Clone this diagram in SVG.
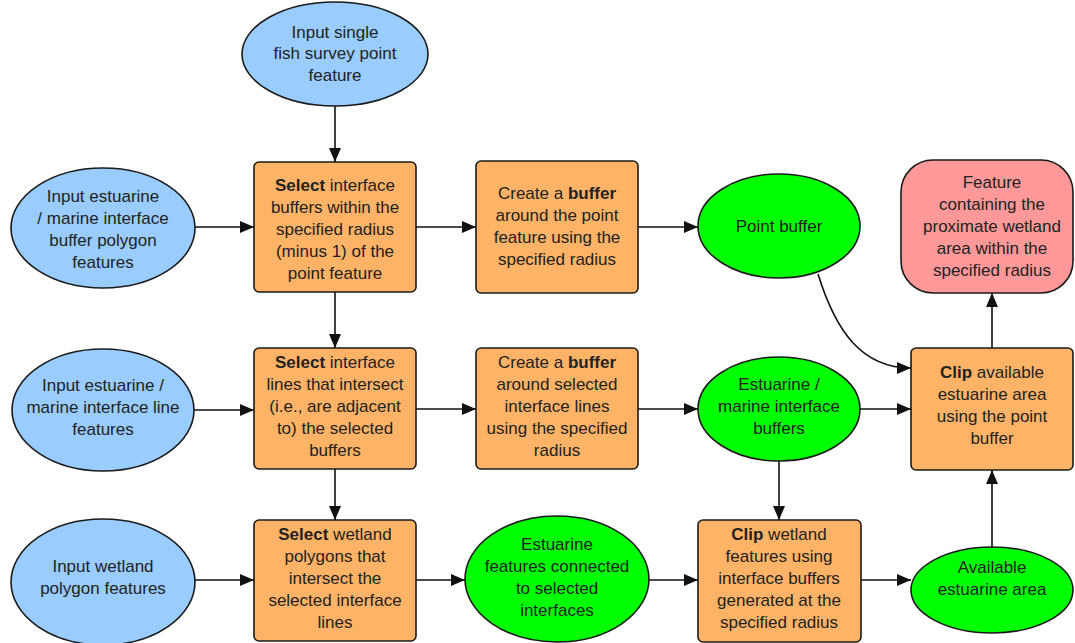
<svg xmlns="http://www.w3.org/2000/svg" width="1075" height="643" viewBox="0 0 1075 643">
<defs>
<marker id="arr" markerUnits="userSpaceOnUse" markerWidth="14" markerHeight="12" viewBox="0 0 14 12" refX="14" refY="6" orient="auto">
<path d="M0,0 L14,6 L0,12 Z" fill="#111"/>
</marker>
</defs>
<style>
.in{fill:#99ccff;stroke:#1a1a1a;stroke-width:1.6}
.pr{fill:#ffb366;stroke:#1a1a1a;stroke-width:1.6}
.gr{fill:#00ff00;stroke:#1a1a1a;stroke-width:1.6}
.out{fill:#ff9999;stroke:#1a1a1a;stroke-width:1.6}
text{font-family:"Liberation Sans",Arial,sans-serif;font-size:17px;fill:#222;text-anchor:middle}
.b{font-weight:bold}
.c{fill:none;stroke:#111;stroke-width:1.6;marker-end:url(#arr)}
</style>
<rect width="1075" height="643" fill="#fff"/>
<g id="connectors">
<line class="c" x1="335" y1="106" x2="335" y2="162"/>
<line class="c" x1="195" y1="227" x2="254" y2="227"/>
<line class="c" x1="416" y1="227" x2="476" y2="227"/>
<line class="c" x1="638" y1="227" x2="698" y2="227"/>
<line class="c" x1="335" y1="292" x2="335" y2="348"/>
<line class="c" x1="194" y1="410" x2="254" y2="410"/>
<line class="c" x1="416" y1="409" x2="476" y2="409"/>
<line class="c" x1="638" y1="409" x2="698" y2="409"/>
<line class="c" x1="860" y1="409" x2="911" y2="409"/>
<line class="c" x1="779" y1="461" x2="779" y2="520"/>
<line class="c" x1="335" y1="469" x2="335" y2="520"/>
<line class="c" x1="194" y1="580" x2="254" y2="580"/>
<line class="c" x1="416" y1="580" x2="465" y2="580"/>
<line class="c" x1="649" y1="580" x2="698" y2="580"/>
<line class="c" x1="861" y1="580" x2="911" y2="580"/>
<line class="c" x1="992" y1="550" x2="992" y2="470"/>
<line class="c" x1="992" y1="348" x2="992" y2="293"/>
<path class="c" d="M818,274 C836,332 862,368 911,368"/>
</g>
<g id="input-point">
<ellipse class="in" cx="335" cy="54" rx="93" ry="52"/>
<text x="335" y="38">Input single</text>
<text x="335" y="59">fish survey point</text>
<text x="335" y="81">feature</text>
</g>
<g id="input-buffer-polygons">
<ellipse class="in" cx="103" cy="228" rx="92" ry="60"/>
<text x="103" y="202">Input estuarine</text>
<text x="103" y="224">/ marine interface</text>
<text x="103" y="246">buffer polygon</text>
<text x="103" y="268">features</text>
</g>
<g id="select-buffers">
<rect class="pr" x="254" y="162" width="162" height="130" rx="5"/>
<text x="335" y="191"><tspan class="b">Select</tspan> interface</text>
<text x="335" y="213">buffers within the</text>
<text x="335" y="235">specified radius</text>
<text x="335" y="257">(minus 1) of the</text>
<text x="335" y="279">point feature</text>
</g>
<g id="create-point-buffer">
<rect class="pr" x="476" y="161" width="162" height="132" rx="5"/>
<text x="557" y="199">Create a <tspan class="b">buffer</tspan></text>
<text x="557" y="221">around the point</text>
<text x="557" y="243">feature using the</text>
<text x="557" y="265">specified radius</text>
</g>
<g id="point-buffer">
<ellipse class="gr" cx="779" cy="226" rx="81" ry="52"/>
<text x="779" y="232">Point buffer</text>
</g>
<g id="output-feature">
<rect class="out" x="901" y="160" width="172" height="133" rx="32"/>
<text x="992" y="188">Feature</text>
<text x="992" y="210">containing the</text>
<text x="992" y="232">proximate wetland</text>
<text x="992" y="254">area within the</text>
<text x="992" y="276">specified radius</text>
</g>
<g id="input-lines">
<ellipse class="in" cx="103" cy="410" rx="91" ry="61"/>
<text x="103" y="391">Input estuarine /</text>
<text x="103" y="413">marine interface line</text>
<text x="103" y="435">features</text>
</g>
<g id="select-lines">
<rect class="pr" x="254" y="348" width="162" height="121" rx="5"/>
<text x="335" y="368"><tspan class="b">Select</tspan> interface</text>
<text x="335" y="390">lines that intersect</text>
<text x="335" y="412">(i.e., are adjacent</text>
<text x="335" y="434">to) the selected</text>
<text x="335" y="456">buffers</text>
</g>
<g id="create-line-buffer">
<rect class="pr" x="476" y="348" width="162" height="121" rx="5"/>
<text x="557" y="368">Create a <tspan class="b">buffer</tspan></text>
<text x="557" y="390">around selected</text>
<text x="557" y="412">interface lines</text>
<text x="557" y="434">using the specified</text>
<text x="557" y="456">radius</text>
</g>
<g id="interface-buffers">
<ellipse class="gr" cx="779" cy="409" rx="81" ry="52"/>
<text x="779" y="390">Estuarine /</text>
<text x="779" y="412">marine interface</text>
<text x="779" y="434">buffers</text>
</g>
<g id="clip-available">
<rect class="pr" x="911" y="348" width="162" height="122" rx="5"/>
<text x="992" y="378"><tspan class="b">Clip</tspan> available</text>
<text x="992" y="400">estuarine area</text>
<text x="992" y="422">using the point</text>
<text x="992" y="444">buffer</text>
</g>
<g id="input-wetland">
<ellipse class="in" cx="103" cy="582" rx="92" ry="63"/>
<text x="103" y="572">Input wetland</text>
<text x="103" y="594">polygon features</text>
</g>
<g id="select-wetland">
<rect class="pr" x="254" y="520" width="162" height="121" rx="5"/>
<text x="335" y="540"><tspan class="b">Select</tspan> wetland</text>
<text x="335" y="562">polygons that</text>
<text x="335" y="584">intersect the</text>
<text x="335" y="606">selected interface</text>
<text x="335" y="628">lines</text>
</g>
<g id="estuarine-features">
<ellipse class="gr" cx="557" cy="579" rx="92" ry="63"/>
<text x="557" y="550">Estuarine</text>
<text x="557" y="572">features connected</text>
<text x="557" y="594">to selected</text>
<text x="557" y="616">interfaces</text>
</g>
<g id="clip-wetland">
<rect class="pr" x="698" y="520" width="163" height="122" rx="5"/>
<text x="779" y="540"><tspan class="b">Clip</tspan> wetland</text>
<text x="779" y="562">features using</text>
<text x="779" y="584">interface buffers</text>
<text x="779" y="606">generated at the</text>
<text x="779" y="628">specified radius</text>
</g>
<g id="available-area">
<ellipse class="gr" cx="992" cy="590" rx="81" ry="43"/>
<text x="992" y="573">Available</text>
<text x="992" y="595">estuarine area</text>
</g>
</svg>
